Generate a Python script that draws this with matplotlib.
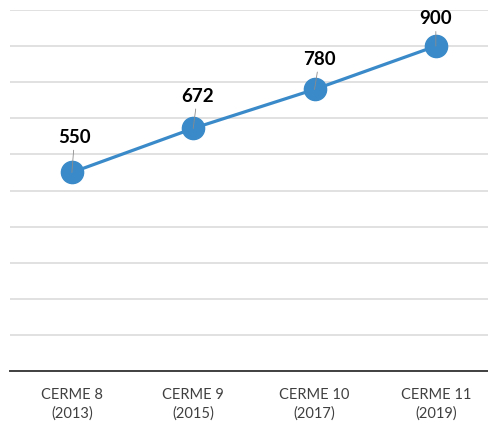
import matplotlib.pyplot as plt

# data
categories = ['CERME 8\n(2013)', 'CERME 9\n(2015)', 'CERME 10\n(2017)', 'CERME 11\n(2019)']
participants = [550, 672, 780, 900]
# data label nudges (points), as placed in the reference
label_dx = [2, 3, 3.5, 0]
label_dy = [19, 17, 15.5, 13.5]

plt.rcParams['font.family'] = ['Lato', 'DejaVu Sans']

fig = plt.figure(figsize=(4.88, 4.26), dpi=100)
ax = fig.add_axes([10 / 488, 55 / 426, 1 - 10 / 488, 361 / 426])

x = list(range(len(categories)))
ax.plot(x, participants, color='#3a8ac9', lw=2.3, marker='o', markersize=16,
        markerfacecolor='#3a8ac9', markeredgecolor='#3a8ac9', zorder=2)

for xi, v, dx, dy in zip(x, participants, label_dx, label_dy):
    ax.annotate(str(v), xy=(xi, v), xytext=(dx, dy), textcoords='offset points',
                ha='center', va='bottom', fontsize=13.5, fontweight='bold', color='black',
                arrowprops=dict(arrowstyle='-', color='#8c8c8c', lw=0.6,
                                shrinkA=1, shrinkB=0))

ax.set_ylim(0, 1000)
ax.set_xlim(-0.51, 3.43)
ax.set_yticks(range(0, 1001, 100))
ax.set_yticklabels([])
ax.tick_params(axis='y', length=0)
ax.set_xticks(x)
ax.set_xticklabels(categories, fontsize=10.5, color='#404040', linespacing=1.4)
ax.tick_params(axis='x', length=0, pad=12)
ax.grid(axis='y', color='#d9d9d9', lw=1.1)
ax.set_axisbelow(True)

for side in ['top', 'right', 'left']:
    ax.spines[side].set_visible(False)
ax.spines['bottom'].set_color('#404040')
ax.spines['bottom'].set_linewidth(1.4)

fig.savefig('out.png', dpi=100)
